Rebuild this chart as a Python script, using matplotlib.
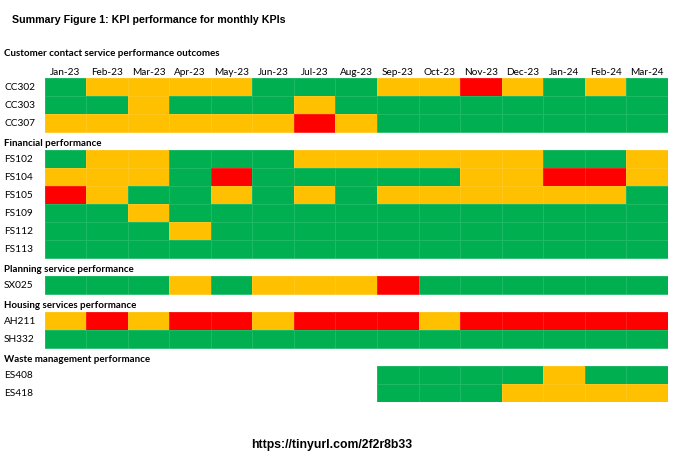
import matplotlib
matplotlib.use("Agg")
import matplotlib.pyplot as plt
from matplotlib.colors import ListedColormap, BoundaryNorm
import numpy as np

# Mois (colonnes)
months = ["Jan-23", "Feb-23", "Mar-23", "Apr-23", "May-23", "Jun-23", "Jul-23",
          "Aug-23", "Sep-23", "Oct-23", "Nov-23", "Dec-23", "Jan-24", "Feb-24", "Mar-24"]

# 0 = pas de donnee, 1 = vert, 2 = ambre, 3 = rouge
sections = [
    "Customer contact service performance outcomes",
    "Financial performance",
    "Planning service performance",
    "Housing services performance",
    "Waste management performance",
]
section_kpis = [
    ["CC302", "CC303", "CC307"],
    ["FS102", "FS104", "FS105", "FS109", "FS112", "FS113"],
    ["SX025"],
    ["AH211", "SH332"],
    ["ES408", "ES418"],
]
CC302 = [1, 2, 2, 2, 2, 1, 1, 1, 2, 2, 3, 2, 1, 2, 1]
CC303 = [1, 1, 2, 1, 1, 1, 2, 1, 1, 1, 1, 1, 1, 1, 1]
CC307 = [2, 2, 2, 2, 2, 2, 3, 2, 1, 1, 1, 1, 1, 1, 1]
FS102 = [1, 2, 2, 1, 1, 1, 2, 2, 2, 2, 2, 2, 1, 1, 2]
FS104 = [2, 2, 2, 1, 3, 1, 1, 1, 1, 1, 2, 2, 3, 3, 2]
FS105 = [3, 2, 1, 1, 2, 1, 2, 1, 2, 2, 2, 2, 2, 2, 1]
FS109 = [1, 1, 2, 1, 1, 1, 1, 1, 1, 1, 1, 1, 1, 1, 1]
FS112 = [1, 1, 1, 2, 1, 1, 1, 1, 1, 1, 1, 1, 1, 1, 1]
FS113 = [1, 1, 1, 1, 1, 1, 1, 1, 1, 1, 1, 1, 1, 1, 1]
SX025 = [1, 1, 1, 2, 1, 2, 2, 2, 3, 1, 1, 1, 1, 1, 1]
AH211 = [2, 3, 2, 3, 3, 2, 3, 3, 3, 2, 3, 3, 3, 3, 3]
SH332 = [1, 1, 1, 1, 1, 1, 1, 1, 1, 1, 1, 1, 1, 1, 1]
ES408 = [0, 0, 0, 0, 0, 0, 0, 0, 1, 1, 1, 1, 2, 1, 1]
ES418 = [0, 0, 0, 0, 0, 0, 0, 0, 1, 1, 1, 2, 2, 2, 2]

valeurs = {"CC302": CC302, "CC303": CC303, "CC307": CC307, "FS102": FS102,
           "FS104": FS104, "FS105": FS105, "FS109": FS109, "FS112": FS112,
           "FS113": FS113, "SX025": SX025, "AH211": AH211, "SH332": SH332,
           "ES408": ES408, "ES418": ES418}

# Construire la grille : une ligne d'entete par section, puis les KPIs
lignes = []   # (type, texte)
for titre, kpis in zip(sections, section_kpis):
    lignes.append(("section", titre))
    if titre == sections[0]:
        lignes.append(("mois", ""))
    for k in kpis:
        lignes.append(("kpi", k))

n_rows = len(lignes)
grille = np.zeros((n_rows, len(months)))
for i, (t, txt) in enumerate(lignes):
    if t == "kpi":
        grille[i] = valeurs[txt]
grille = np.ma.masked_equal(grille, 0)

cmap = ListedColormap(["#00B050", "#FFC000", "#FF0000"])
norm = BoundaryNorm([0.5, 1.5, 2.5, 3.5], cmap.N)

fig = plt.figure(figsize=(6.8, 4.62), dpi=100)
W, H = 680, 462
x0, x1 = 44.5, 668
y0, y1 = 42, 402
ax = fig.add_axes([x0 / W, 1 - y1 / H, (x1 - x0) / W, (y1 - y0) / H])
ax.pcolormesh(grille, cmap=cmap, norm=norm, edgecolors=(1, 1, 1, 0.12), linewidth=0.5)
ax.set_xlim(0, len(months))
ax.set_ylim(n_rows, 0)
ax.axis("off")

police = "Lato"
col_w = (x1 - x0) / len(months)
lab_x = (4 - x0) / col_w
for i, (t, txt) in enumerate(lignes):
    if t == "section":
        ax.text(lab_x, i + 0.62, txt, fontsize=7, fontweight="bold", family=police,
                ha="left", va="center", clip_on=False)
    elif t == "mois":
        for j, m in enumerate(months):
            ax.text(j + 0.5, i + 0.7, m, fontsize=7.2, family=police,
                    ha="center", va="center", clip_on=False)
    else:
        ax.text(lab_x, i + 0.55, txt, fontsize=7.3, family=police,
                ha="left", va="center", clip_on=False)

fig.text(12 / W, 1 - 20 / H, "Summary Figure 1: KPI performance for monthly KPIs",
         fontsize=7.7, fontweight="bold", family="Liberation Sans", ha="left", va="center")
fig.text(331.5 / W, 1 - 445 / H, "https://tinyurl.com/2f2r8b33",
         fontsize=8.8, fontweight="bold", family="Liberation Sans", ha="center", va="center")

fig.savefig("out.png", dpi=100)
